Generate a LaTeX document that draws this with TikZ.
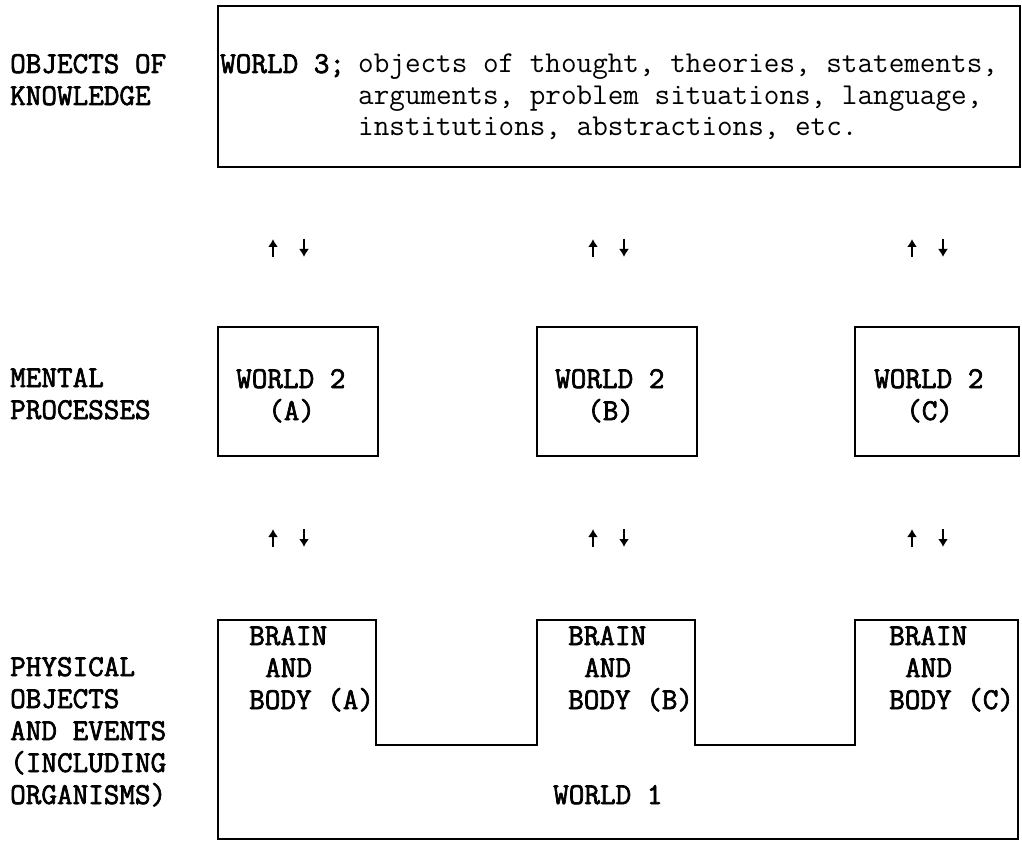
\documentclass[tikz,border=0pt]{standalone}
\usepackage{fontspec}
\newfontfamily\typew{Latin Modern Mono}[BoldFont=Latin Modern Mono,BoldFeatures={FakeBold=2.2}]
\usetikzlibrary{arrows.meta}
\tikzset{
  txt/.style={inner sep=0pt,anchor=base west,font=\fontsize{30.3}{32}\selectfont\typew},
  btxt/.style={txt,font=\fontsize{30.3}{32}\selectfont\typew\bfseries},
  frame/.style={draw=black,line width=1.8pt},
  updown/.style={line width=1.8pt,-{Latex[length=8pt,width=10pt]}},
}
\newcommand\tl[5]{\node[#1] (#2) at (#3,#4+9) {#5};}
\begin{document}
\begin{tikzpicture}[x=1pt,y=-1pt]
\useasboundingbox (0,0) rectangle (1022,842);
% labels
\tl{btxt}{l1a}{10}{64}{OBJECTS OF}
\tl{btxt}{l1b}{10}{96}{KNOWLEDGE}
\tl{btxt}{l2a}{10}{378}{MENTAL}
\tl{btxt}{l2b}{10}{410}{PROCESSES}
\tl{btxt}{l3a}{10}{667}{PHYSICAL}
\tl{btxt}{l3b}{10}{699}{OBJECTS}
\tl{btxt}{l3c}{10}{731}{AND EVENTS}
\tl{btxt}{l3d}{10}{763}{(INCLUDING}
\tl{btxt}{l3e}{10}{795}{ORGANISMS)}
% world 3
\draw[frame] (218,6) rectangle (1020,167);
\tl{btxt}{w3}{220}{64}{WORLD 3;}
\tl{txt}{w3a}{358}{64}{objects of thought, theories, statements,}
\tl{txt}{w3b}{358}{96}{arguments, problem situations, language,}
\tl{txt}{w3c}{358}{127}{institutions, abstractions, etc.}
% world 2 boxes
\draw[frame] (218,327) rectangle (378,456);
\draw[frame] (537,327) rectangle (697,456);
\draw[frame] (855,327) rectangle (1019,456);
\tl{btxt}{w2a}{236}{379}{WORLD 2}
\tl{btxt}{w2ai}{268}{411}{(A)}
\tl{btxt}{w2b}{555}{379}{WORLD 2}
\tl{btxt}{w2bi}{587}{411}{(B)}
\tl{btxt}{w2c}{874}{379}{WORLD 2}
\tl{btxt}{w2ci}{906}{411}{(C)}
% world 1 outline
\draw[frame] (218,620) -- (376,620) -- (376,745) -- (537,745) -- (537,620)
  -- (695,620) -- (695,745) -- (855,745) -- (855,620) -- (1018,620)
  -- (1018,839) -- (218,839) -- cycle;
\tl{btxt}{bA1}{249}{636}{BRAIN}
\tl{btxt}{bA2}{265}{668}{AND}
\tl{btxt}{bA3}{249}{700}{BODY (A)}
\tl{btxt}{bB1}{568}{636}{BRAIN}
\tl{btxt}{bB2}{584}{668}{AND}
\tl{btxt}{bB3}{568}{700}{BODY (B)}
\tl{btxt}{bC1}{889}{636}{BRAIN}
\tl{btxt}{bC2}{905}{668}{AND}
\tl{btxt}{bC3}{889}{700}{BODY (C)}
\tl{btxt}{w1}{553}{795}{WORLD 1}
% arrows
\foreach \n/\x in {a/273,b/593,c/912}{
  \foreach \r/\y in {1/248,2/538}{
    \coordinate (u\n\r s) at (\x,\y+9);
    \coordinate (u\n\r e) at (\x,\y-9);
    \coordinate (d\n\r s) at (\x+31,\y-9);
    \coordinate (d\n\r e) at (\x+31,\y+9);
    \draw[updown] (u\n\r s) -- (u\n\r e);
    \draw[updown] (d\n\r s) -- (d\n\r e);
  }
}
\end{tikzpicture}
\end{document}
